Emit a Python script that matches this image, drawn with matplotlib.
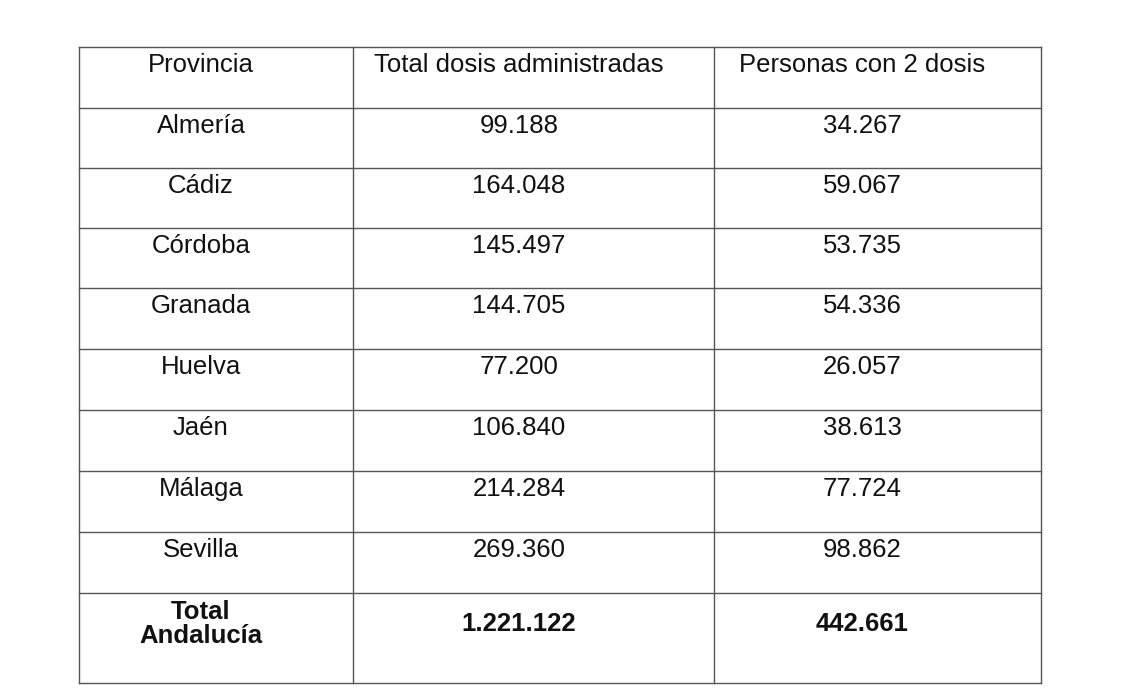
import matplotlib.pyplot as plt

headers = ["Provincia", "Total dosis administradas", "Personas con 2 dosis"]
provincias = ["Almería", "Cádiz", "Córdoba", "Granada", "Huelva", "Jaén", "Málaga", "Sevilla"]
total_dosis = ["99.188", "164.048", "145.497", "144.705", "77.200", "106.840", "214.284", "269.360"]
dos_dosis = ["34.267", "59.067", "53.735", "54.336", "26.057", "38.613", "77.724", "98.862"]
total_row = ["Total\nAndalucía", "1.221.122", "442.661"]

# layout in pixel coordinates
col_x = [79, 353, 714, 1041]
row_y = [47, 108, 168, 228, 288, 349, 410, 471, 532, 593, 683]
centers = [201, 519, 862]

fig = plt.figure(figsize=(11.24, 6.98), dpi=100)
ax = fig.add_axes([0, 0, 1, 1])
ax.set_xlim(0, 1124)
ax.set_ylim(698, 0)
ax.axis("off")

for x in col_x:
    ax.plot([x, x], [row_y[0], row_y[-1]], color="#555555", lw=1.0)
for y in row_y:
    ax.plot([col_x[0], col_x[-1]], [y, y], color="#555555", lw=1.0)

font = dict(family="Liberation Sans", fontsize=18.5, color="#111111", ha="center", va="center")

for c, h in zip(centers, headers):
    ax.text(c, row_y[0] + 18, h, **font)

for i, r in enumerate(zip(provincias, total_dosis, dos_dosis)):
    y = row_y[i + 1] + 18
    for c, v in zip(centers, r):
        ax.text(c, y, v, **font)

y = row_y[9] + 31
ax.text(centers[0], y, total_row[0], fontweight="bold", linespacing=1.0, **font)
for c, v in zip(centers[1:], total_row[1:]):
    ax.text(c, y, v, fontweight="bold", **font)

fig.savefig("out.png", dpi=100, facecolor="white")
